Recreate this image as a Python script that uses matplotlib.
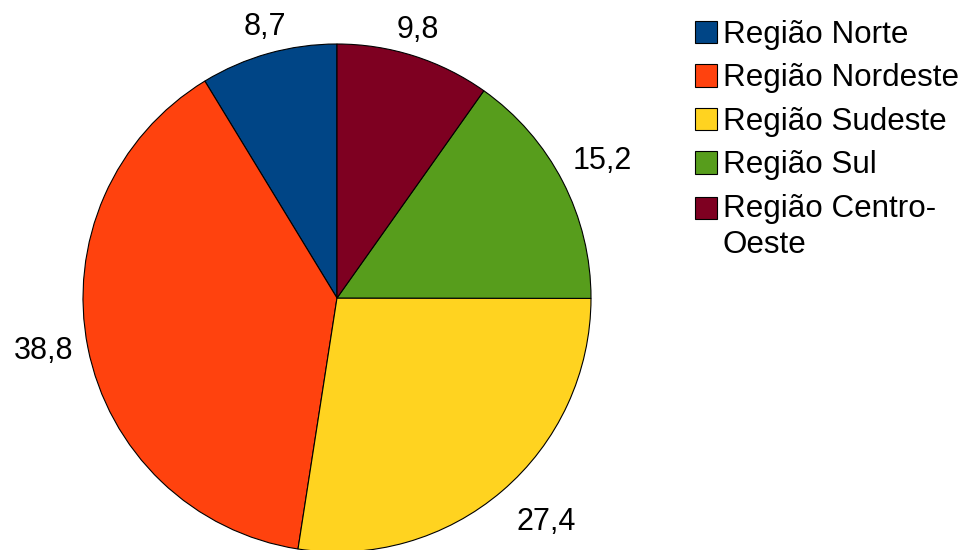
import numpy as np
import matplotlib
matplotlib.use('Agg')
import matplotlib.pyplot as plt

plt.rcParams['font.family'] = ['Liberation Sans', 'DejaVu Sans']

# data
regions = ['Região Norte', 'Região Nordeste', 'Região Sudeste', 'Região Sul',
           'Região Centro-\nOeste']
values = [8.7, 38.8, 27.4, 15.2, 9.8]
colors = ['#004586', '#ff420e', '#ffd320', '#579d1c', '#7e0021']

W, H = 965, 550
fig = plt.figure(figsize=(W / 100, H / 100), dpi=100)
# square axes, pie centre at (337, 298) px, radius 254 px
ax = fig.add_axes([83 / W, (H - 298 - 254) / H, 508 / W, 508 / H])

wedges, _ = ax.pie(values, colors=colors, startangle=90, counterclock=True,
                   radius=1.0,
                   wedgeprops=dict(edgecolor='black', linewidth=0.8))
ax.set_xlim(-1, 1)
ax.set_ylim(-1, 1)
ax.set_aspect('equal')
ax.axis('off')

# value labels just outside each slice
for w, v in zip(wedges, values):
    theta = np.deg2rad((w.theta1 + w.theta2) / 2)
    c, s = np.cos(theta), np.sin(theta)
    ha = 'left' if c > 0.35 else ('right' if c < -0.35 else 'center')
    va = 'bottom' if s > 0.35 else ('top' if s < -0.35 else 'center')
    r = 1.045 if s > 0.35 else (1.085 if s < -0.35 else 1.06)
    ax.text(r * c, r * s, ('%.1f' % v).replace('.', ','), ha=ha, va=va,
            fontsize=22, clip_on=False)

fs = 22.6
ls = 1.24
leg = fig.legend(wedges, regions, loc='upper left',
                 bbox_to_anchor=(695 / W, 1 - 20 / H), frameon=False,
                 fontsize=fs, borderpad=0, borderaxespad=0,
                 handlelength=0.71, handleheight=0.71, handletextpad=0.17,
                 labelspacing=0.43)
leg.get_texts()[4].set_linespacing(ls)
# keep the last swatch level with the first line of its two-line label
last = leg.legend_handles[4]
last.set_y(last.get_y() + 0.5 * ls * fs)

fig.savefig('out.png', dpi=100)
